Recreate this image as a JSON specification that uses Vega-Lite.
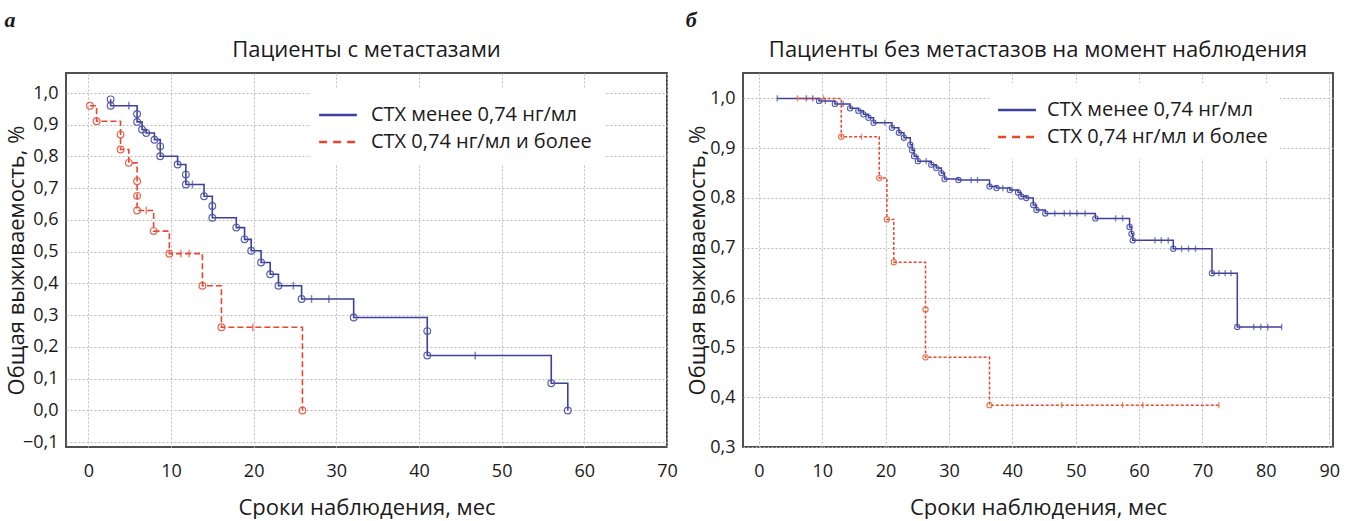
{
  "$schema": "https://vega.github.io/schema/vega-lite/v6.json",
  "background": "white",
  "padding": {"left": 4, "top": 9, "right": 5, "bottom": 0},
  "config": {
    "font": "Open Sans",
    "view": {"stroke": "#505050", "strokeWidth": 2},
    "axis": {"gridColor": "#bdbdbd", "gridDash": [2, 2], "gridWidth": 1, "domain": false, "ticks": false, "labelFontSize": 18, "labelColor": "#1a1a1a", "titleFontSize": 22, "titleFontWeight": "normal", "titleColor": "#1a1a1a", "labelPadding": 8},
    "title": {"fontWeight": "normal", "fontSize": 22, "color": "#1a1a1a"}
  },
  "data": {"values": [
    {"p":"a","g":"lo","i":1,"t":2.7,"s":0.98,"k":"o"},
    {"p":"a","g":"lo","i":2,"t":2.7,"s":0.96,"k":"o"},
    {"p":"a","g":"lo","i":3,"t":4.9,"s":0.96,"k":"c"},
    {"p":"a","g":"lo","i":4,"t":5.9,"s":0.934,"k":"o"},
    {"p":"a","g":"lo","i":5,"t":5.9,"s":0.909,"k":"o"},
    {"p":"a","g":"lo","i":6,"t":6.5,"s":0.885,"k":"o"},
    {"p":"a","g":"lo","i":7,"t":7.0,"s":0.874,"k":"o"},
    {"p":"a","g":"lo","i":8,"t":8.0,"s":0.853,"k":"o"},
    {"p":"a","g":"lo","i":9,"t":8.7,"s":0.832,"k":"o"},
    {"p":"a","g":"lo","i":10,"t":8.7,"s":0.801,"k":"o"},
    {"p":"a","g":"lo","i":11,"t":10.8,"s":0.775,"k":"o"},
    {"p":"a","g":"lo","i":12,"t":11.8,"s":0.743,"k":"o"},
    {"p":"a","g":"lo","i":13,"t":11.8,"s":0.712,"k":"o"},
    {"p":"a","g":"lo","i":14,"t":12.6,"s":0.712,"k":"c"},
    {"p":"a","g":"lo","i":15,"t":14.0,"s":0.675,"k":"o"},
    {"p":"a","g":"lo","i":16,"t":15.0,"s":0.644,"k":"o"},
    {"p":"a","g":"lo","i":17,"t":15.0,"s":0.607,"k":"o"},
    {"p":"a","g":"lo","i":18,"t":17.9,"s":0.576,"k":"o"},
    {"p":"a","g":"lo","i":19,"t":18.9,"s":0.539,"k":"o"},
    {"p":"a","g":"lo","i":20,"t":19.7,"s":0.503,"k":"o"},
    {"p":"a","g":"lo","i":21,"t":20.9,"s":0.466,"k":"o"},
    {"p":"a","g":"lo","i":22,"t":22.0,"s":0.429,"k":"o"},
    {"p":"a","g":"lo","i":23,"t":23.0,"s":0.393,"k":"o"},
    {"p":"a","g":"lo","i":24,"t":24.8,"s":0.393,"k":"c"},
    {"p":"a","g":"lo","i":25,"t":25.8,"s":0.351,"k":"o"},
    {"p":"a","g":"lo","i":26,"t":27.0,"s":0.351,"k":"c"},
    {"p":"a","g":"lo","i":27,"t":29.1,"s":0.351,"k":"c"},
    {"p":"a","g":"lo","i":28,"t":32.1,"s":0.293,"k":"o"},
    {"p":"a","g":"lo","i":29,"t":41.0,"s":0.25,"k":"o"},
    {"p":"a","g":"lo","i":30,"t":41.0,"s":0.173,"k":"o"},
    {"p":"a","g":"lo","i":31,"t":46.8,"s":0.173,"k":"c"},
    {"p":"a","g":"lo","i":32,"t":56.0,"s":0.086,"k":"o"},
    {"p":"a","g":"lo","i":33,"t":58.0,"s":0.0,"k":"o"},
    {"p":"a","g":"hi","i":1,"t":0.2,"s":0.96,"k":"o"},
    {"p":"a","g":"hi","i":2,"t":1.0,"s":0.911,"k":"o"},
    {"p":"a","g":"hi","i":3,"t":3.9,"s":0.869,"k":"o"},
    {"p":"a","g":"hi","i":4,"t":3.9,"s":0.822,"k":"o"},
    {"p":"a","g":"hi","i":5,"t":4.9,"s":0.78,"k":"o"},
    {"p":"a","g":"hi","i":6,"t":5.9,"s":0.722,"k":"o"},
    {"p":"a","g":"hi","i":7,"t":5.9,"s":0.676,"k":"o"},
    {"p":"a","g":"hi","i":8,"t":5.9,"s":0.63,"k":"o"},
    {"p":"a","g":"hi","i":9,"t":7.0,"s":0.63,"k":"c"},
    {"p":"a","g":"hi","i":10,"t":7.9,"s":0.565,"k":"o"},
    {"p":"a","g":"hi","i":11,"t":9.8,"s":0.494,"k":"o"},
    {"p":"a","g":"hi","i":12,"t":11.2,"s":0.494,"k":"c"},
    {"p":"a","g":"hi","i":13,"t":12.2,"s":0.494,"k":"c"},
    {"p":"a","g":"hi","i":14,"t":13.8,"s":0.393,"k":"o"},
    {"p":"a","g":"hi","i":15,"t":16.1,"s":0.262,"k":"o"},
    {"p":"a","g":"hi","i":16,"t":19.9,"s":0.262,"k":"c"},
    {"p":"a","g":"hi","i":17,"t":25.9,"s":0.0,"k":"o"},
    {"p":"b","g":"lo","i":1,"t":2.9,"s":1.0,"k":"c"},
    {"p":"b","g":"lo","i":2,"t":7.5,"s":1.0,"k":"c"},
    {"p":"b","g":"lo","i":3,"t":8.5,"s":1.0,"k":"c"},
    {"p":"b","g":"lo","i":4,"t":9.5,"s":0.995,"k":"o"},
    {"p":"b","g":"lo","i":5,"t":10.5,"s":0.995,"k":"c"},
    {"p":"b","g":"lo","i":6,"t":12.0,"s":0.989,"k":"o"},
    {"p":"b","g":"lo","i":7,"t":13.3,"s":0.989,"k":"c"},
    {"p":"b","g":"lo","i":8,"t":14.4,"s":0.98,"k":"o"},
    {"p":"b","g":"lo","i":9,"t":15.7,"s":0.975,"k":"o"},
    {"p":"b","g":"lo","i":10,"t":16.5,"s":0.968,"k":"o"},
    {"p":"b","g":"lo","i":11,"t":17.3,"s":0.961,"k":"o"},
    {"p":"b","g":"lo","i":12,"t":18.1,"s":0.951,"k":"o"},
    {"p":"b","g":"lo","i":13,"t":19.9,"s":0.951,"k":"c"},
    {"p":"b","g":"lo","i":14,"t":21.0,"s":0.941,"k":"o"},
    {"p":"b","g":"lo","i":15,"t":22.1,"s":0.931,"k":"o"},
    {"p":"b","g":"lo","i":16,"t":22.9,"s":0.921,"k":"o"},
    {"p":"b","g":"lo","i":17,"t":23.9,"s":0.907,"k":"o"},
    {"p":"b","g":"lo","i":18,"t":24.2,"s":0.896,"k":"o"},
    {"p":"b","g":"lo","i":19,"t":24.5,"s":0.884,"k":"o"},
    {"p":"b","g":"lo","i":20,"t":25.1,"s":0.874,"k":"o"},
    {"p":"b","g":"lo","i":21,"t":26.4,"s":0.874,"k":"c"},
    {"p":"b","g":"lo","i":22,"t":27.2,"s":0.867,"k":"o"},
    {"p":"b","g":"lo","i":23,"t":28.0,"s":0.86,"k":"o"},
    {"p":"b","g":"lo","i":24,"t":28.8,"s":0.85,"k":"o"},
    {"p":"b","g":"lo","i":25,"t":29.3,"s":0.838,"k":"o"},
    {"p":"b","g":"lo","i":26,"t":31.5,"s":0.836,"k":"o"},
    {"p":"b","g":"lo","i":27,"t":33.5,"s":0.836,"k":"c"},
    {"p":"b","g":"lo","i":28,"t":34.5,"s":0.836,"k":"c"},
    {"p":"b","g":"lo","i":29,"t":36.4,"s":0.823,"k":"o"},
    {"p":"b","g":"lo","i":30,"t":37.5,"s":0.82,"k":"o"},
    {"p":"b","g":"lo","i":31,"t":38.5,"s":0.82,"k":"c"},
    {"p":"b","g":"lo","i":32,"t":39.6,"s":0.816,"k":"o"},
    {"p":"b","g":"lo","i":33,"t":40.9,"s":0.811,"k":"o"},
    {"p":"b","g":"lo","i":34,"t":41.4,"s":0.803,"k":"o"},
    {"p":"b","g":"lo","i":35,"t":42.2,"s":0.8,"k":"o"},
    {"p":"b","g":"lo","i":36,"t":43.3,"s":0.786,"k":"o"},
    {"p":"b","g":"lo","i":37,"t":43.8,"s":0.776,"k":"o"},
    {"p":"b","g":"lo","i":38,"t":45.2,"s":0.769,"k":"o"},
    {"p":"b","g":"lo","i":39,"t":46.7,"s":0.769,"k":"c"},
    {"p":"b","g":"lo","i":40,"t":48.2,"s":0.769,"k":"c"},
    {"p":"b","g":"lo","i":41,"t":49.1,"s":0.769,"k":"c"},
    {"p":"b","g":"lo","i":42,"t":50.2,"s":0.769,"k":"c"},
    {"p":"b","g":"lo","i":43,"t":51.5,"s":0.769,"k":"c"},
    {"p":"b","g":"lo","i":44,"t":53.1,"s":0.759,"k":"o"},
    {"p":"b","g":"lo","i":45,"t":56.3,"s":0.759,"k":"c"},
    {"p":"b","g":"lo","i":46,"t":57.4,"s":0.759,"k":"c"},
    {"p":"b","g":"lo","i":47,"t":58.5,"s":0.742,"k":"o"},
    {"p":"b","g":"lo","i":48,"t":58.8,"s":0.728,"k":"o"},
    {"p":"b","g":"lo","i":49,"t":59.0,"s":0.715,"k":"o"},
    {"p":"b","g":"lo","i":50,"t":62.5,"s":0.715,"k":"c"},
    {"p":"b","g":"lo","i":51,"t":63.5,"s":0.715,"k":"c"},
    {"p":"b","g":"lo","i":52,"t":64.6,"s":0.715,"k":"c"},
    {"p":"b","g":"lo","i":53,"t":65.4,"s":0.698,"k":"o"},
    {"p":"b","g":"lo","i":54,"t":66.7,"s":0.698,"k":"c"},
    {"p":"b","g":"lo","i":55,"t":67.8,"s":0.698,"k":"c"},
    {"p":"b","g":"lo","i":56,"t":68.9,"s":0.698,"k":"c"},
    {"p":"b","g":"lo","i":57,"t":71.5,"s":0.649,"k":"o"},
    {"p":"b","g":"lo","i":58,"t":72.6,"s":0.649,"k":"c"},
    {"p":"b","g":"lo","i":59,"t":73.6,"s":0.649,"k":"c"},
    {"p":"b","g":"lo","i":60,"t":74.5,"s":0.649,"k":"c"},
    {"p":"b","g":"lo","i":61,"t":75.5,"s":0.541,"k":"o"},
    {"p":"b","g":"lo","i":62,"t":78.1,"s":0.541,"k":"c"},
    {"p":"b","g":"lo","i":63,"t":79.2,"s":0.541,"k":"c"},
    {"p":"b","g":"lo","i":64,"t":80.3,"s":0.541,"k":"c"},
    {"p":"b","g":"lo","i":65,"t":82.5,"s":0.541,"k":"c"},
    {"p":"b","g":"hi","i":1,"t":6.1,"s":1.0,"k":"c"},
    {"p":"b","g":"hi","i":2,"t":10.2,"s":1.0,"k":"c"},
    {"p":"b","g":"hi","i":3,"t":13.0,"s":0.923,"k":"o"},
    {"p":"b","g":"hi","i":4,"t":16.2,"s":0.923,"k":"c"},
    {"p":"b","g":"hi","i":5,"t":19.0,"s":0.84,"k":"o"},
    {"p":"b","g":"hi","i":6,"t":20.2,"s":0.757,"k":"o"},
    {"p":"b","g":"hi","i":7,"t":21.3,"s":0.671,"k":"o"},
    {"p":"b","g":"hi","i":8,"t":26.3,"s":0.576,"k":"o"},
    {"p":"b","g":"hi","i":9,"t":26.3,"s":0.48,"k":"o"},
    {"p":"b","g":"hi","i":10,"t":36.4,"s":0.384,"k":"o"},
    {"p":"b","g":"hi","i":11,"t":47.8,"s":0.384,"k":"c"},
    {"p":"b","g":"hi","i":12,"t":57.4,"s":0.384,"k":"c"},
    {"p":"b","g":"hi","i":13,"t":60.6,"s":0.384,"k":"c"},
    {"p":"b","g":"hi","i":14,"t":72.6,"s":0.384,"k":"c"}
  ]},
  "spacing": 6,
  "resolve": {"scale": {"color": "independent", "stroke": "independent"}, "legend": {"color": "independent"}},
  "hconcat": [
    {
      "title": {"text": "а", "anchor": "start", "frame": "bounds", "font": "Liberation Serif", "fontStyle": "italic", "fontWeight": "bold", "fontSize": 22, "offset": 6},
      "resolve": {"scale": {"color": "independent", "stroke": "independent"}, "legend": {"color": "independent"}},
      "vconcat": [
        {
          "title": {"text": "Пациенты с метастазами", "offset": 11},
          "width": 601,
          "height": 374,
          "transform": [{"filter": "datum.p == 'a'"}],
          "encoding": {
            "x": {"field": "t", "type": "quantitative", "scale": {"domain": [-2.7, 70], "nice": false, "zero": false},
                  "axis": {"values": [0, 10, 20, 30, 40, 50, 60, 70], "title": "Сроки наблюдения, мес", "labelPadding": 15, "titlePadding": 17, "labelFlush": false}},
            "y": {"field": "s", "type": "quantitative", "scale": {"domain": [-0.115, 1.063], "nice": false, "zero": false},
                  "axis": {"values": [-0.1, 0, 0.1, 0.2, 0.3, 0.4, 0.5, 0.6, 0.7, 0.8, 0.9, 1.0], "labelExpr": "replace(format(datum.value, '.1f'), '.', ',')", "title": "Общая выживаемость, %", "titlePadding": -6, "labelFlush": false}}
          },
          "layer": [
            {
              "transform": [{"filter": "datum.g == 'lo'"}],
              "mark": {"type": "line", "interpolate": "step-after", "strokeWidth": 1.6},
              "encoding": {
                "order": {"field": "i", "type": "quantitative"},
                "color": {"field": "g", "type": "nominal", "scale": {"domain": ["lo", "hi"], "range": ["#3d409c", "#e8452f"]},
                  "legend": {"title": null, "orient": "none", "legendX": 245, "legendY": 15, "symbolType": "M-1.4,0H1.4", "symbolSize": 729, "symbolStrokeWidth": 2.5, "symbolFillColor": "transparent", "labelFontSize": 20, "labelOffset": 18, "rowPadding": 2, "padding": 12, "fillColor": "white", "labelLimit": 400, "labelColor": "#1a1a1a",
                    "labelExpr": "datum.value == 'lo' ? 'СТХ менее 0,74 нг/мл' : 'СТХ 0,74 нг/мл и более'",
                    "encode": {"symbols": {"update": {"strokeDash": {"signal": "datum.value == 'hi' ? [8, 6] : [1, 0]"}}}}}}
              }
            },
            {
              "transform": [{"filter": "datum.g == 'hi'"}],
              "mark": {"type": "line", "interpolate": "step-after", "strokeWidth": 1.6, "strokeDash": [6, 3]},
              "encoding": {
                "order": {"field": "i", "type": "quantitative"},
                "color": {"field": "g", "type": "nominal", "scale": {"domain": ["lo", "hi"], "range": ["#3d409c", "#e8452f"]}}
              }
            },
            {
              "transform": [{"filter": "datum.k == 'o'"}],
              "mark": {"type": "point", "shape": "circle", "filled": false, "size": 45, "strokeWidth": 1.2, "opacity": 0.9},
              "encoding": {"stroke": {"field": "g", "type": "nominal", "scale": {"domain": ["lo", "hi"], "range": ["#4a4fa5", "#e4573d"]}, "legend": null}}
            },
            {
              "transform": [{"filter": "datum.k == 'c'"}],
              "mark": {"type": "point", "shape": "M0,-1V1", "filled": false, "size": 60, "strokeWidth": 1.5},
              "encoding": {"stroke": {"field": "g", "type": "nominal", "scale": {"domain": ["lo", "hi"], "range": ["#4a4fa5", "#e4573d"]}, "legend": null}}
            }
          ]
        }
      ]
    },
    {
      "title": {"text": "б", "anchor": "start", "frame": "bounds", "font": "Liberation Serif", "fontStyle": "italic", "fontWeight": "bold", "fontSize": 22, "offset": 6},
      "resolve": {"scale": {"color": "independent", "stroke": "independent"}, "legend": {"color": "independent"}},
      "vconcat": [
        {
          "title": {"text": "Пациенты без метастазов на момент наблюдения", "offset": 11},
          "width": 590,
          "height": 374,
          "transform": [{"filter": "datum.p == 'b'"}],
          "encoding": {
            "x": {"field": "t", "type": "quantitative", "scale": {"domain": [-2.5, 90.6], "nice": false, "zero": false},
                  "axis": {"values": [0, 10, 20, 30, 40, 50, 60, 70, 80, 90], "title": "Сроки наблюдения, мес", "labelPadding": 15, "titlePadding": 17, "labelFlush": false}},
            "y": {"field": "s", "type": "quantitative", "scale": {"domain": [0.3, 1.051], "nice": false, "zero": false},
                  "axis": {"values": [0.3, 0.4, 0.5, 0.6, 0.7, 0.8, 0.9, 1.0], "labelExpr": "replace(format(datum.value, '.1f'), '.', ',')", "title": "Общая выживаемость, %", "titlePadding": 0, "labelFlush": false}}
          },
          "layer": [
            {
              "transform": [{"filter": "datum.g == 'lo'"}],
              "mark": {"type": "line", "interpolate": "step-after", "strokeWidth": 1.5},
              "encoding": {
                "order": {"field": "i", "type": "quantitative"},
                "color": {"field": "g", "type": "nominal", "scale": {"domain": ["lo", "hi"], "range": ["#3d409c", "#e8452f"]},
                  "legend": {"title": null, "orient": "none", "legendX": 247, "legendY": 10, "symbolType": "M-1.4,0H1.4", "symbolSize": 729, "symbolStrokeWidth": 2.5, "symbolFillColor": "transparent", "labelFontSize": 20, "labelOffset": 15, "rowPadding": 2, "padding": 12, "fillColor": "white", "labelLimit": 400, "labelColor": "#1a1a1a",
                    "labelExpr": "datum.value == 'lo' ? 'СТХ менее 0,74 нг/мл' : 'СТХ 0,74 нг/мл и более'",
                    "encode": {"symbols": {"update": {"strokeDash": {"signal": "datum.value == 'hi' ? [8, 6] : [1, 0]"}}}}}}
              }
            },
            {
              "transform": [{"filter": "datum.g == 'hi'"}],
              "mark": {"type": "line", "interpolate": "step-after", "strokeWidth": 1.5, "strokeDash": [3, 2]},
              "encoding": {
                "order": {"field": "i", "type": "quantitative"},
                "color": {"field": "g", "type": "nominal", "scale": {"domain": ["lo", "hi"], "range": ["#3d409c", "#e8452f"]}}
              }
            },
            {
              "transform": [{"filter": "datum.k == 'o'"}],
              "mark": {"type": "point", "shape": "circle", "filled": false, "size": 28, "strokeWidth": 1.1, "opacity": 0.9},
              "encoding": {"stroke": {"field": "g", "type": "nominal", "scale": {"domain": ["lo", "hi"], "range": ["#4a4fa5", "#e4673d"]}, "legend": null}}
            },
            {
              "transform": [{"filter": "datum.k == 'c'"}],
              "mark": {"type": "point", "shape": "M0,-1V1", "filled": false, "size": 40, "strokeWidth": 1.4},
              "encoding": {"stroke": {"field": "g", "type": "nominal", "scale": {"domain": ["lo", "hi"], "range": ["#4a4fa5", "#e4673d"]}, "legend": null}}
            }
          ]
        }
      ]
    }
  ]
}
